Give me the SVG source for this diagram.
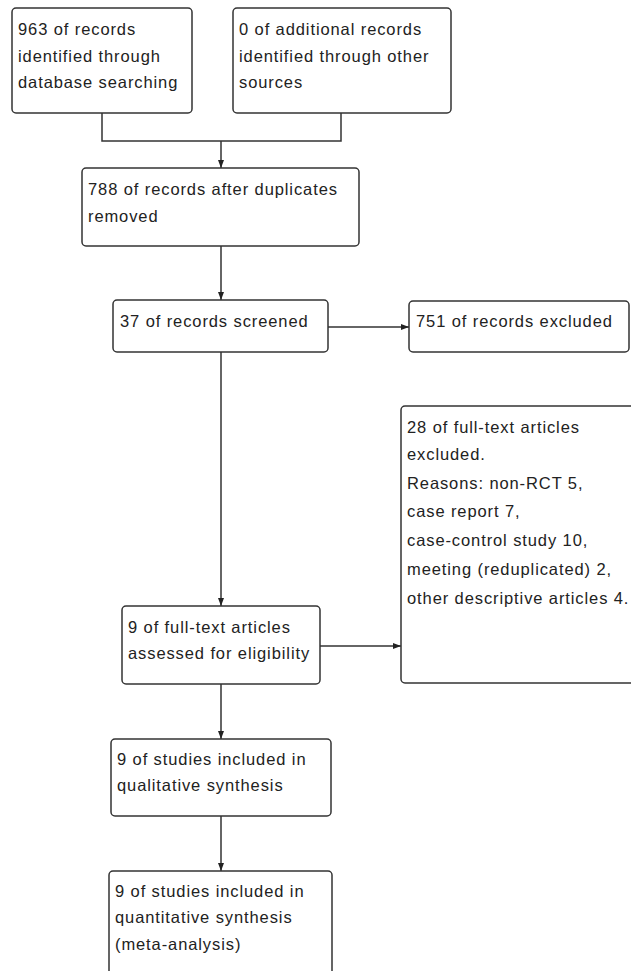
<svg xmlns="http://www.w3.org/2000/svg" width="631" height="971" viewBox="0 0 631 971">
<defs>
<marker id="ah" viewBox="0 0 8 8" refX="8" refY="4" markerWidth="8" markerHeight="8" markerUnits="userSpaceOnUse" orient="auto">
<path d="M0,1 L8,4 L0,7 Z" fill="#222"/>
</marker>
</defs>
<style>
.box{fill:#fff;stroke:#333;stroke-width:1.5}
.t{font-family:"Liberation Sans",Arial,sans-serif;font-size:16.5px;letter-spacing:0.9px;fill:#222}
.c{fill:none;stroke:#333;stroke-width:1.5}
</style>
<rect width="631" height="971" fill="#fff"/>
<g id="connectors">
<path class="c" d="M102,113 V141 H341 V113"/>
<path class="c" d="M221,141 V168" marker-end="url(#ah)"/>
<path class="c" d="M221,246 V300" marker-end="url(#ah)"/>
<path class="c" d="M328,327 H409" marker-end="url(#ah)"/>
<path class="c" d="M221,352 V606" marker-end="url(#ah)"/>
<path class="c" d="M320,646 H401" marker-end="url(#ah)"/>
<path class="c" d="M221,684 V739" marker-end="url(#ah)"/>
<path class="c" d="M221,816 V871" marker-end="url(#ah)"/>
</g>
<g id="n1">
<rect class="box" x="12" y="8" width="180" height="105" rx="4"/>
<text class="t" x="18" y="35">963 of records</text>
<text class="t" x="18" y="62">identified through</text>
<text class="t" x="18" y="88">database searching</text>
</g>
<g id="n2">
<rect class="box" x="233" y="8" width="218" height="105" rx="4"/>
<text class="t" x="239" y="35">0 of additional records</text>
<text class="t" x="239" y="62">identified through other</text>
<text class="t" x="239" y="88">sources</text>
</g>
<g id="n3">
<rect class="box" x="82" y="168" width="277" height="78" rx="4"/>
<text class="t" x="88" y="195">788 of records after duplicates</text>
<text class="t" x="88" y="222">removed</text>
</g>
<g id="n4">
<rect class="box" x="113" y="300" width="215" height="52" rx="4"/>
<text class="t" x="120" y="327">37 of records screened</text>
</g>
<g id="n5">
<rect class="box" x="409" y="301" width="220" height="51" rx="4"/>
<text class="t" x="416" y="327">751 of records excluded</text>
</g>
<g id="n6">
<rect class="box" x="401" y="406" width="240" height="277" rx="4"/>
<text class="t" x="407" y="433">28 of full-text articles</text>
<text class="t" x="407" y="460">excluded.</text>
<text class="t" x="407" y="489">Reasons: non-RCT 5,</text>
<text class="t" x="407" y="517">case report 7,</text>
<text class="t" x="407" y="546">case-control study 10,</text>
<text class="t" x="407" y="575">meeting (reduplicated) 2,</text>
<text class="t" x="407" y="604">other descriptive articles 4.</text>
</g>
<g id="n7">
<rect class="box" x="122" y="606" width="198" height="78" rx="4"/>
<text class="t" x="128" y="633">9 of full-text articles</text>
<text class="t" x="128" y="659">assessed for eligibility</text>
</g>
<g id="n8">
<rect class="box" x="111" y="739" width="220" height="77" rx="4"/>
<text class="t" x="117" y="765">9 of studies included in</text>
<text class="t" x="117" y="791">qualitative synthesis</text>
</g>
<g id="n9">
<rect class="box" x="109" y="871" width="223" height="110" rx="4"/>
<text class="t" x="115" y="897">9 of studies included in</text>
<text class="t" x="115" y="923">quantitative synthesis</text>
<text class="t" x="115" y="950">(meta-analysis)</text>
</g>
</svg>
